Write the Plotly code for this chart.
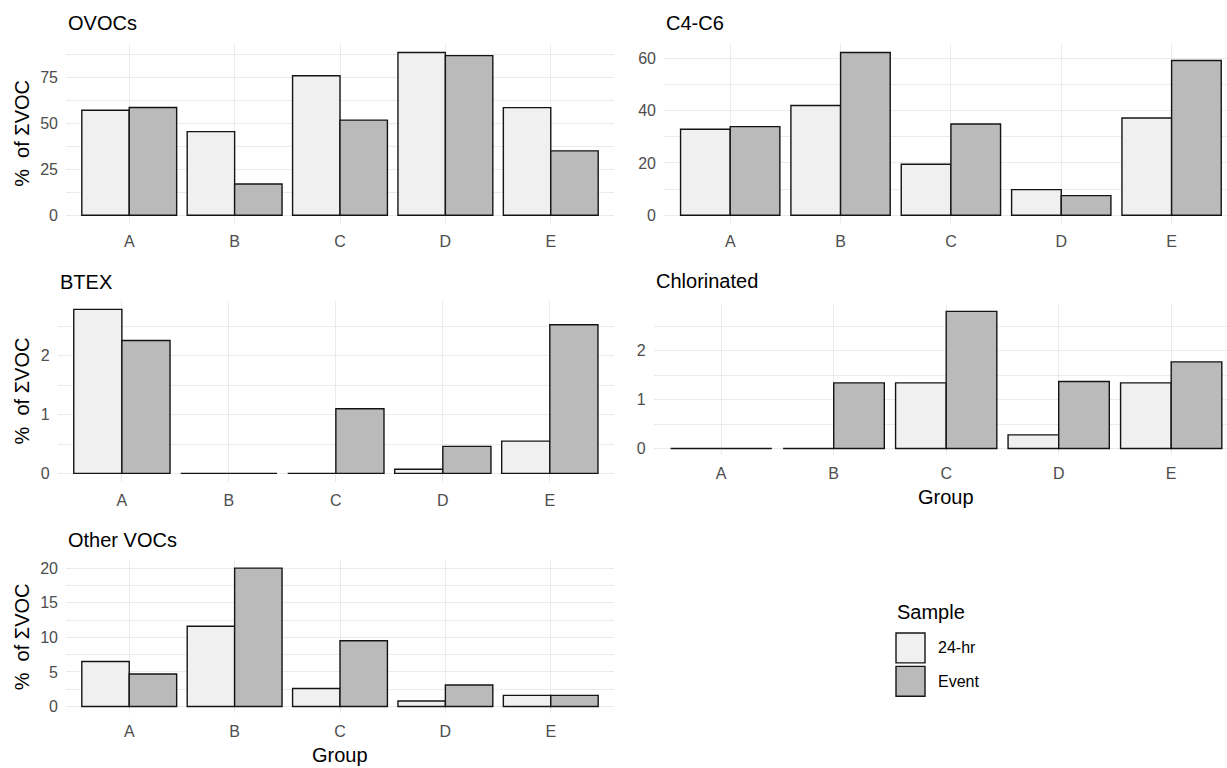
import plotly.graph_objects as go

# Figure size in pixels
W, H = 1227, 768

groups = ["A", "B", "C", "D", "E"]
samples = ["24-hr", "Event"]
sample_colors = {"24-hr": "#F0F0F0", "Event": "#BABABA"}

# Percent of total VOC by compound class, per group and sample type
ovocs_24hr = [57.3, 45.6, 76.1, 88.8, 58.7]
ovocs_event = [58.8, 17.0, 51.9, 87.1, 35.1]

c4c6_24hr = [32.9, 42.0, 19.5, 9.8, 37.2]
c4c6_event = [33.9, 62.3, 34.9, 7.5, 59.2]

btex_24hr = [2.79, 0.0, 0.0, 0.07, 0.55]
btex_event = [2.26, 0.0, 1.10, 0.46, 2.53]

chlorinated_24hr = [0.0, 0.0, 1.34, 0.28, 1.34]
chlorinated_event = [0.0, 1.34, 2.80, 1.37, 1.77]

other_24hr = [6.5, 11.6, 2.6, 0.8, 1.6]
other_event = [4.7, 20.0, 9.5, 3.1, 1.6]

y_label = "%  of \u03a3VOC"
x_label = "Group"
legend_title = "Sample"

FONT = "Liberation Sans, Arial, sans-serif"
TICK_COLOR = "#4D4D4D"
GRID = "#EBEBEB"
EDGE = "#141414"


def fx(px):
    return px / W


def fy(px):
    return 1 - px / H


# panel boxes in pixels: (left, right, top, bottom), title baseline row
panels = [
    dict(title="OVOCs", s1=ovocs_24hr, s2=ovocs_event, dtick=25,
         box=(66.0, 614.0, 43.5, 223.2), title_y=22, ylab=True, xlab=False, xmax=4.6),
    dict(title="C4-C6", s1=c4c6_24hr, s2=c4c6_event, dtick=20,
         box=(664.0, W, 43.5, 223.2), title_y=22, ylab=False, xlab=False, xmax=4.502),
    dict(title="BTEX", s1=btex_24hr, s2=btex_event, dtick=1,
         box=(57.7, 614.0, 301.4, 482.5), title_y=282, ylab=True, xlab=False, xmax=4.6),
    dict(title="Chlorinated", s1=chlorinated_24hr, s2=chlorinated_event, dtick=1,
         box=(653.7, W, 304.7, 456.2), title_y=281, ylab=False, xlab=True, xlab_y=498,
         xmax=4.496, full_right=1239.2),
    dict(title="Other VOCs", s1=other_24hr, s2=other_event, dtick=5,
         box=(66.0, 614.0, 562.4, 715.2), title_y=541, ylab=True, xlab=True, xlab_y=757,
         xmax=4.6),
]

fig = go.Figure()
annotations = []
shapes = []

for i, p in enumerate(panels, start=1):
    xa = "x" if i == 1 else f"x{i}"
    ya = "y" if i == 1 else f"y{i}"
    for name, vals in zip(samples, (p["s1"], p["s2"])):
        fig.add_trace(go.Bar(
            x=groups, y=vals, name=name, xaxis=xa, yaxis=ya,
            marker=dict(color=sample_colors[name], line=dict(color=EDGE, width=1.4)),
            showlegend=False,
        ))
    left, right, top, bottom = p["box"]
    vmax = max(max(p["s1"]), max(p["s2"]))
    ax_key = "xaxis" if i == 1 else f"xaxis{i}"
    ay_key = "yaxis" if i == 1 else f"yaxis{i}"
    fig.layout[ax_key] = dict(
        domain=[fx(left), fx(right)], anchor=ya,
        range=[-0.6, p["xmax"]], type="category",
        showgrid=True, gridcolor=GRID, gridwidth=1.1, zeroline=False,
        showline=False, ticks="",
        tickfont=dict(family=FONT, size=16, color=TICK_COLOR),
        ticklabelstandoff=7, fixedrange=True,
    )
    fig.layout[ay_key] = dict(
        domain=[fy(bottom), fy(top)], anchor=xa,
        range=[-0.05 * vmax, 1.05 * vmax],
        tick0=0, dtick=p["dtick"],
        showgrid=True, gridcolor=GRID, gridwidth=1.1, zeroline=False,
        showline=False, ticks="",
        minor=dict(dtick=p["dtick"] / 2, showgrid=True, gridcolor=GRID, gridwidth=0.55),
        tickfont=dict(family=FONT, size=16, color=TICK_COLOR),
        ticklabelstandoff=7, fixedrange=True,
    )
    annotations.append(dict(
        text=p["title"], x=fx(left), y=fy(p["title_y"]), xref="paper", yref="paper",
        xanchor="left", yanchor="middle", showarrow=False,
        font=dict(family=FONT, size=20, color="#000000"),
    ))
    if p["ylab"]:
        annotations.append(dict(
            text=y_label, x=fx(22), y=fy((top + bottom) / 2), xref="paper", yref="paper",
            xanchor="center", yanchor="middle", textangle=-90, showarrow=False,
            font=dict(family=FONT, size=20, color="#000000"),
        ))
    if p["xlab"]:
        full_right = p.get("full_right", right)
        annotations.append(dict(
            text=x_label, x=fx((left + full_right) / 2), y=fy(p["xlab_y"]),
            xref="paper", yref="paper",
            xanchor="center", yanchor="middle", showarrow=False,
            font=dict(family=FONT, size=20, color="#000000"),
        ))

# legend drawn as keys plus labels
annotations.append(dict(
    text=legend_title, x=fx(895), y=fy(613), xref="paper", yref="paper",
    xanchor="left", yanchor="middle", showarrow=False,
    font=dict(family=FONT, size=20, color="#000000"),
))
key_top = 633.5
key_h = 32.0
for k, name in enumerate(samples):
    y0 = key_top + k * (key_h + 1.5)
    shapes.append(dict(
        type="rect", xref="paper", yref="paper",
        x0=fx(896), x1=fx(925), y0=fy(y0 + key_h - 1), y1=fy(y0 + 1),
        fillcolor=sample_colors[name], line=dict(color=EDGE, width=1.4),
    ))
    annotations.append(dict(
        text=name, x=fx(936), y=fy(y0 + key_h / 2), xref="paper", yref="paper",
        xanchor="left", yanchor="middle", showarrow=False,
        font=dict(family=FONT, size=16, color="#000000"),
    ))

fig.update_layout(
    width=W, height=H,
    margin=dict(l=0, r=0, t=0, b=0),
    paper_bgcolor="white", plot_bgcolor="white",
    barmode="group", bargap=0.1, bargroupgap=0.0,
    annotations=annotations, shapes=shapes,
    font=dict(family=FONT),
    showlegend=False,
)

fig.write_html("out.html", config={"displayModeBar": False})
